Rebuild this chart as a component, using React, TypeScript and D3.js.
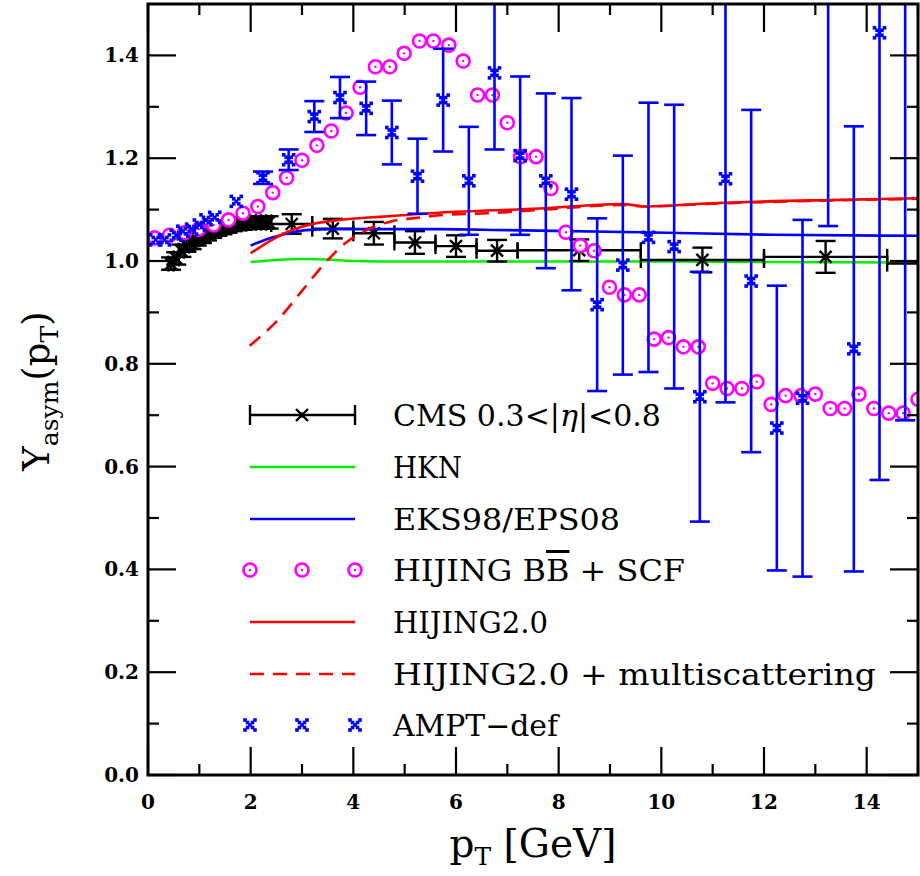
import React from "react";
import * as d3 from "d3";

// ---------- data ----------
const cmsX = [0.45, 0.55, 0.65, 0.75, 0.85, 0.95, 1.05, 1.15, 1.25, 1.35, 1.45, 1.55, 1.65, 1.75, 1.85, 1.95, 2.05, 2.15, 2.25, 2.35, 2.8, 3.6, 4.4, 5.2, 6.0, 6.8, 8.4, 10.8, 13.2, 16.8];
const cmsXLo = [0.4, 0.5, 0.6, 0.7, 0.8, 0.9, 1.0, 1.1, 1.2, 1.3, 1.4, 1.5, 1.6, 1.7, 1.8, 1.9, 2.0, 2.1, 2.2, 2.3, 2.4, 3.2, 4.0, 4.8, 5.6, 6.4, 7.2, 9.6, 12.0, 14.4];
const cmsXHi = [0.5, 0.6, 0.7, 0.8, 0.9, 1.0, 1.1, 1.2, 1.3, 1.4, 1.5, 1.6, 1.7, 1.8, 1.9, 2.0, 2.1, 2.2, 2.3, 2.4, 3.2, 4.0, 4.8, 5.6, 6.4, 7.2, 9.6, 12.0, 14.4, 19.2];
const cmsY = [0.995, 1.005, 1.02, 1.03, 1.035, 1.042, 1.047, 1.052, 1.057, 1.061, 1.064, 1.067, 1.07, 1.072, 1.073, 1.074, 1.075, 1.075, 1.075, 1.075, 1.072, 1.063, 1.054, 1.036, 1.029, 1.02, 1.021, 1.002, 1.008, 0.995];
const cmsYErr = [0.012, 0.012, 0.012, 0.012, 0.012, 0.012, 0.012, 0.012, 0.012, 0.012, 0.012, 0.012, 0.012, 0.012, 0.012, 0.012, 0.012, 0.012, 0.012, 0.012, 0.019, 0.019, 0.022, 0.022, 0.021, 0.021, 0.021, 0.024, 0.031, 0.03];

const hknX = [2, 2.5, 3, 3.5, 4, 5, 6, 8, 10, 12, 15];
const hknY = [0.998, 1.002, 1.004, 1.003, 1.0, 0.999, 0.999, 0.999, 0.999, 0.998, 0.997];

const eksX = [2, 2.2, 2.43, 2.75, 3.08, 3.6, 4.38, 5.67, 7, 9.57, 12.16, 15];
const eksY = [1.03, 1.038, 1.046, 1.054, 1.06, 1.062, 1.062, 1.062, 1.06, 1.056, 1.051, 1.049];

const hij2X = [2, 2.2, 2.43, 2.75, 3.21, 3.73, 4.38, 5.67, 7.62, 9.24, 9.7, 10.87, 13.46, 15];
const hij2Y = [1.015, 1.028, 1.042, 1.058, 1.072, 1.08, 1.085, 1.094, 1.102, 1.111, 1.106, 1.112, 1.119, 1.122];

const multX = [1.98, 2.5, 3.0, 3.44, 3.86, 4.3, 4.77, 5.26, 5.67, 6.6, 7.6, 9.24, 9.7, 10.87, 13.46, 15];
const multY = [0.835, 0.882, 0.942, 0.995, 1.036, 1.062, 1.078, 1.084, 1.089, 1.093, 1.099, 1.109, 1.106, 1.111, 1.118, 1.121];

const bbX = [0.13, 0.42, 0.71, 0.99, 1.28, 1.57, 1.85, 2.14, 2.43, 2.7, 3.0, 3.29, 3.57, 3.86, 4.13, 4.43, 4.71, 4.99, 5.29, 5.56, 5.86, 6.14, 6.42, 6.71, 7.0, 7.26, 7.56, 7.85, 8.14, 8.42, 8.69, 8.99, 9.28, 9.57, 9.86, 10.14, 10.43, 10.72, 11.0, 11.28, 11.57, 11.86, 12.14, 12.42, 12.72, 13.0, 13.29, 13.57, 13.85, 14.14, 14.43, 14.71, 15.0];
const bbY = [1.045, 1.05, 1.055, 1.062, 1.07, 1.08, 1.093, 1.106, 1.133, 1.162, 1.196, 1.225, 1.253, 1.288, 1.338, 1.378, 1.378, 1.404, 1.428, 1.428, 1.42, 1.389, 1.323, 1.323, 1.269, 1.203, 1.203, 1.141, 1.056, 1.03, 1.02, 0.949, 0.934, 0.934, 0.848, 0.851, 0.833, 0.833, 0.762, 0.752, 0.752, 0.765, 0.721, 0.738, 0.738, 0.741, 0.713, 0.713, 0.741, 0.713, 0.704, 0.704, 0.731];

const amptX = [0.15, 0.32, 0.55, 0.68, 0.85, 1.0, 1.13, 1.3, 1.72, 2.24, 2.74, 3.24, 3.74, 4.25, 4.75, 5.25, 5.75, 6.25, 6.75, 7.25, 7.75, 8.25, 8.75, 9.25, 9.75, 10.25, 10.75, 11.25, 11.75, 12.25, 12.75, 13.25, 13.75, 14.25, 14.75];
const amptY = [1.041, 1.041, 1.05, 1.058, 1.062, 1.07, 1.08, 1.085, 1.116, 1.162, 1.197, 1.281, 1.318, 1.297, 1.25, 1.165, 1.313, 1.156, 1.366, 1.205, 1.156, 1.13, 0.915, 0.992, 1.046, 1.028, 0.736, 1.16, 0.961, 0.675, 0.733, 1.6, 0.829, 1.444, 1.6];
const amptErr = [0.004, 0.004, 0.005, 0.005, 0.005, 0.006, 0.006, 0.006, 0.006, 0.012, 0.02, 0.03, 0.04, 0.052, 0.062, 0.073, 0.1, 0.105, 0.149, 0.154, 0.17, 0.187, 0.168, 0.213, 0.262, 0.276, 0.243, 0.435, 0.333, 0.277, 0.347, 0.532, 0.433, 0.87, 0.91];

const xTicks = [0, 2, 4, 6, 8, 10, 12, 14];
const yTicks = [0, 0.2, 0.4, 0.6, 0.8, 1.0, 1.2, 1.4];

const legendLabels = ["CMS", "HKN", "EKS98/EPS08", "HIJING", "HIJING2.0", "HIJING2.0 + multiscattering", "AMPT\u2212def"];

// ---------- layout ----------
const W = 920, H = 876;
const L = 148, R = 918, T = 4, B = 775;
const FONT = "'DejaVu Serif', serif";
const MAGENTA = "#ff00ff";
const BLUE = "#0000ff";
const GREEN = "#00ee00";
const RED = "#ff0000";

const x = d3.scaleLinear().domain([0, 15]).range([L, R]);
const y = d3.scaleLinear().domain([0, 1.5]).range([B, T]);

function AmptMarker({ cx, cy }: { cx: number; cy: number }) {
  const offs = [[-5, -5], [5, -5], [-2.5, -2.5], [2.5, -2.5], [0, 0], [-2.5, 2.5], [2.5, 2.5], [-5, 5], [5, 5]];
  return (
    <g>
      {offs.map(([dx, dy], i) => (
        <rect key={i} x={cx + dx - 1.8} y={cy + dy - 1.8} width={3.6} height={3.6} fill={BLUE} />
      ))}
    </g>
  );
}

function BBMarker({ cx, cy }: { cx: number; cy: number }) {
  return (
    <g>
      <circle cx={cx} cy={cy} r={6.5} fill="white" stroke={MAGENTA} strokeWidth={2.6} />
      <circle cx={cx} cy={cy} r={1.2} fill={MAGENTA} />
    </g>
  );
}

function CmsMarker({ cx, cy }: { cx: number; cy: number }) {
  const s = 6;
  return (
    <g stroke="black" strokeWidth={2.4}>
      <line x1={cx - s} y1={cy - s} x2={cx + s} y2={cy + s} />
      <line x1={cx - s} y1={cy + s} x2={cx + s} y2={cy - s} />
      <rect x={cx - 2.5} y={cy - 2.5} width={5} height={5} fill="black" strokeWidth={0} />
    </g>
  );
}

export default function App() {
  const mkLine = (xs: number[], ys: number[]) =>
    d3.line<number>().x((_, i) => x(xs[i])).y((d) => y(d)).curve(d3.curveMonotoneX)(ys) || "";

  const xMinor = d3.range(0, 16, 1).filter((v) => v % 2 !== 0);
  const yMinor = d3.range(1, 15, 2).map((v) => v / 10);

  const legendY = [415, 467, 519, 570, 622, 674, 725];
  const lx1 = 250, lx2 = 355, lxm = 302, tx = 393;
  const LFS = 30;
  const tOff = 11;

  return (
    <svg width={W} height={H} style={{ position: "absolute", left: 0, top: 0 }} fontFamily={FONT}>
      <defs>
        <clipPath id="plotclip">
          <rect x={L} y={T} width={R - L} height={B - T} />
        </clipPath>
      </defs>
      <rect x={0} y={0} width={W} height={H} fill="white" />

      <g clipPath="url(#plotclip)">
        {/* HKN */}
        <path d={mkLine(hknX, hknY)} fill="none" stroke={GREEN} strokeWidth={2.6} />
        {/* CMS error bars */}
        {cmsX.map((v, i) => (
          <g key={"c" + i} stroke="black" strokeWidth={2.4}>
            <line x1={x(cmsXLo[i])} x2={x(cmsXHi[i])} y1={y(cmsY[i])} y2={y(cmsY[i])} />
            <line x1={x(cmsXLo[i])} x2={x(cmsXLo[i])} y1={y(cmsY[i]) - 8} y2={y(cmsY[i]) + 8} />
            <line x1={x(cmsXHi[i])} x2={x(cmsXHi[i])} y1={y(cmsY[i]) - 8} y2={y(cmsY[i]) + 8} />
            <line x1={x(v)} x2={x(v)} y1={y(cmsY[i] - cmsYErr[i])} y2={y(cmsY[i] + cmsYErr[i])} />
            <line x1={x(v) - 10} x2={x(v) + 10} y1={y(cmsY[i] - cmsYErr[i])} y2={y(cmsY[i] - cmsYErr[i])} />
            <line x1={x(v) - 10} x2={x(v) + 10} y1={y(cmsY[i] + cmsYErr[i])} y2={y(cmsY[i] + cmsYErr[i])} />
          </g>
        ))}
        {cmsX.map((v, i) => (
          <CmsMarker key={"cm" + i} cx={x(v)} cy={y(cmsY[i])} />
        ))}
        {/* EKS */}
        <path d={mkLine(eksX, eksY)} fill="none" stroke={BLUE} strokeWidth={2.6} />
        {/* HIJING 2.0 */}
        <path d={mkLine(hij2X, hij2Y)} fill="none" stroke={RED} strokeWidth={2.6} />
        <path d={mkLine(multX, multY)} fill="none" stroke={RED} strokeWidth={2.6} strokeDasharray="14,9" />
        {/* HIJING BB */}
        {bbX.map((v, i) => (
          <BBMarker key={"b" + i} cx={x(v)} cy={y(bbY[i])} />
        ))}
        {/* AMPT */}
        {amptX.map((v, i) => {
          const e = amptErr[i];
          const showBar = e > 0.008;
          return (
            <g key={"a" + i}>
              {showBar && (
                <g stroke={BLUE} strokeWidth={2.6}>
                  <line x1={x(v)} x2={x(v)} y1={y(amptY[i] - e)} y2={y(amptY[i] + e)} />
                  <line x1={x(v) - 10} x2={x(v) + 10} y1={y(amptY[i] - e)} y2={y(amptY[i] - e)} />
                  <line x1={x(v) - 10} x2={x(v) + 10} y1={y(amptY[i] + e)} y2={y(amptY[i] + e)} />
                </g>
              )}
              <AmptMarker cx={x(v)} cy={y(amptY[i])} />
            </g>
          );
        })}
      </g>

      {/* frame */}
      <rect x={L} y={T} width={R - L} height={B - T} fill="none" stroke="black" strokeWidth={3} />
      {/* ticks */}
      <g stroke="black" strokeWidth={2.2}>
        {xTicks.map((t) => (
          <g key={"xt" + t}>
            <line x1={x(t)} x2={x(t)} y1={B} y2={B - 28} />
            <line x1={x(t)} x2={x(t)} y1={T} y2={T + 28} />
          </g>
        ))}
        {xMinor.map((t) => (
          <g key={"xm" + t}>
            <line x1={x(t)} x2={x(t)} y1={B} y2={B - 11} />
            <line x1={x(t)} x2={x(t)} y1={T} y2={T + 11} />
          </g>
        ))}
        {yTicks.map((t) => (
          <g key={"yt" + t}>
            <line x1={L} x2={L + 28} y1={y(t)} y2={y(t)} />
            <line x1={R} x2={R - 28} y1={y(t)} y2={y(t)} />
          </g>
        ))}
        {yMinor.map((t) => (
          <g key={"ym" + t}>
            <line x1={L} x2={L + 11} y1={y(t)} y2={y(t)} />
            <line x1={R} x2={R - 11} y1={y(t)} y2={y(t)} />
          </g>
        ))}
      </g>
      {/* tick labels */}
      {xTicks.map((t) => (
        <text key={"xl" + t} x={x(t)} y={B + 34} textAnchor="middle" fontSize={20} fontWeight="bold">
          {t}
        </text>
      ))}
      {yTicks.map((t) => (
        <text key={"yl" + t} x={L - 9} y={y(t) + 7} textAnchor="end" fontSize={20} fontWeight="bold">
          {t.toFixed(1)}
        </text>
      ))}

      {/* axis titles */}
      <text x={533} y={857} textAnchor="middle" fontSize={39}>
        p<tspan fontSize={25} dy={8}>T</tspan>
        <tspan dy={-8}> [GeV]</tspan>
      </text>
      <text transform={`translate(49, 391) rotate(-90)`} textAnchor="middle" fontSize={37}>
        Y<tspan fontSize={25} dy={9}>asym</tspan>
        <tspan dy={-9}>(p</tspan>
        <tspan fontSize={25} dy={9}>T</tspan>
        <tspan dy={-9}>)</tspan>
      </text>

      {/* legend */}
      <g>
        {/* CMS */}
        <g stroke="black" strokeWidth={2.4}>
          <line x1={lx1} x2={lx2} y1={legendY[0]} y2={legendY[0]} />
          <line x1={lx1} x2={lx1} y1={legendY[0] - 10} y2={legendY[0] + 10} />
          <line x1={lx2} x2={lx2} y1={legendY[0] - 10} y2={legendY[0] + 10} />
        </g>
        <CmsMarker cx={lxm} cy={legendY[0]} />
        <text x={tx} y={legendY[0] + tOff} fontSize={LFS} textLength={268} lengthAdjust="spacingAndGlyphs">
          {legendLabels[0]} 0.3&lt;|<tspan fontStyle="italic">η</tspan>|&lt;0.8
        </text>
        {/* HKN */}
        <line x1={lx1} x2={lx2} y1={legendY[1]} y2={legendY[1]} stroke={GREEN} strokeWidth={2.6} />
        <text x={tx} y={legendY[1] + tOff} fontSize={LFS} textLength={69} lengthAdjust="spacingAndGlyphs">{legendLabels[1]}</text>
        {/* EKS */}
        <line x1={lx1} x2={lx2} y1={legendY[2]} y2={legendY[2]} stroke={BLUE} strokeWidth={2.6} />
        <text x={tx} y={legendY[2] + tOff} fontSize={LFS} textLength={227} lengthAdjust="spacingAndGlyphs">{legendLabels[2]}</text>
        {/* HIJING BB */}
        {[lx1, lxm, lx2].map((p) => (
          <BBMarker key={"lb" + p} cx={p} cy={legendY[3]} />
        ))}
        <text x={tx} y={legendY[3] + tOff} fontSize={LFS} textLength={292} lengthAdjust="spacingAndGlyphs">
          {legendLabels[3]} B<tspan textDecoration="overline" style={{ textDecoration: "overline" }}>B</tspan> + SCF
        </text>
        {/* HIJING2.0 */}
        <line x1={lx1} x2={lx2} y1={legendY[4]} y2={legendY[4]} stroke={RED} strokeWidth={2.6} />
        <text x={tx} y={legendY[4] + tOff} fontSize={LFS} textLength={155} lengthAdjust="spacingAndGlyphs">{legendLabels[4]}</text>
        {/* multiscattering */}
        <line x1={lx1} x2={lx2} y1={legendY[5]} y2={legendY[5]} stroke={RED} strokeWidth={2.6} strokeDasharray="14,9" />
        <text x={tx} y={legendY[5] + tOff} fontSize={LFS} textLength={483} lengthAdjust="spacingAndGlyphs">{legendLabels[5]}</text>
        {/* AMPT */}
        {[lx1, lxm, lx2].map((p) => (
          <AmptMarker key={"la" + p} cx={p} cy={legendY[6]} />
        ))}
        <text x={tx} y={legendY[6] + tOff} fontSize={LFS} textLength={165} lengthAdjust="spacingAndGlyphs">{legendLabels[6]}</text>
      </g>
    </svg>
  );
}
